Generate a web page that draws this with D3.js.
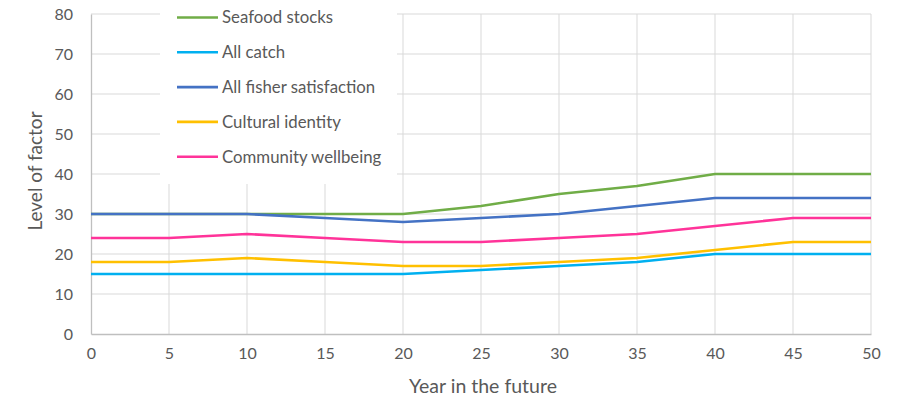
<!DOCTYPE html>
<html>
<head>
<meta charset="utf-8">
<script src="https://cdn.jsdelivr.net/npm/d3@7"></script>
<style>
  html, body { margin: 0; padding: 0; background: #fff; }
  svg { display: block; font-family: Lato, "Open Sans", sans-serif; }
</style>
</head>
<body>
<svg id="chart" width="919" height="405"></svg>
<script>
// Years on the horizontal axis
const years = [0, 5, 10, 15, 20, 25, 30, 35, 40, 45, 50];

// Level of each factor per year
const seafoodStocks         = [30, 30, 30, 30, 30, 32, 35, 37, 40, 40, 40];
const allCatch              = [15, 15, 15, 15, 15, 16, 17, 18, 20, 20, 20];
const allFisherSatisfaction = [30, 30, 30, 29, 28, 29, 30, 32, 34, 34, 34];
const culturalIdentity      = [18, 18, 19, 18, 17, 17, 18, 19, 21, 23, 23];
const communityWellbeing    = [24, 24, 25, 24, 23, 23, 24, 25, 27, 29, 29];

const seriesNames = ["Seafood stocks", "All catch", "All fisher satisfaction", "Cultural identity", "Community wellbeing"];
const seriesColors = ["#70ad47", "#00b0f0", "#4472c4", "#ffc000", "#ff3399"];

const yTicks = [0, 10, 20, 30, 40, 50, 60, 70, 80];

const series = [seafoodStocks, allCatch, allFisherSatisfaction, culturalIdentity, communityWellbeing]
  .map((vals, i) => ({ name: seriesNames[i], color: seriesColors[i], values: vals }));

const svg = d3.select("#chart");
const margin = { left: 91, right: 48, top: 14, bottom: 71 };
const W = 919, H = 405;

const x = d3.scaleLinear().domain([0, 50]).range([margin.left, W - margin.right]);
const y = d3.scaleLinear().domain([0, 80]).range([H - margin.bottom, margin.top]);

const textColor = "#595959";
const gridColor = "#d9d9d9";

// Gridlines
const grid = svg.append("g");
grid.selectAll("line.h").data(yTicks.filter(d => d > 0)).join("line")
  .attr("x1", x(0)).attr("x2", x(50))
  .attr("y1", d => y(d)).attr("y2", d => y(d))
  .attr("stroke", gridColor).attr("stroke-width", 1);
grid.selectAll("line.v").data(years.filter(d => d > 0)).join("line")
  .attr("x1", d => x(d)).attr("x2", d => x(d))
  .attr("y1", y(0)).attr("y2", y(80))
  .attr("stroke", gridColor).attr("stroke-width", 1);

// Axes
const xAxis = svg.append("g")
  .attr("transform", `translate(0,${y(0)})`)
  .call(d3.axisBottom(x).tickValues(years).tickSize(0).tickPadding(14));
const yAxis = svg.append("g")
  .attr("transform", `translate(${x(0)},0)`)
  .call(d3.axisLeft(y).tickValues(yTicks).tickSize(0).tickPadding(18));
[xAxis, yAxis].forEach(a => {
  a.select(".domain").attr("stroke", "#bfbfbf").attr("stroke-width", 1.3);
  a.selectAll("text").attr("fill", textColor).attr("font-size", 16)
    .attr("font-family", "Lato, 'Open Sans', sans-serif");
});

// Axis titles
svg.append("text")
  .attr("x", (x(0) + x(50)) / 2 + 2).attr("y", 393)
  .attr("text-anchor", "middle").attr("fill", textColor).attr("font-size", 19.5)
  .text("Year in the future");
svg.append("text")
  .attr("transform", `translate(42,${y(40) - 3}) rotate(-90)`)
  .attr("text-anchor", "middle").attr("fill", textColor).attr("font-size", 19)
  .text("Level of factor");

// Legend background sits over the gridlines
const legend = svg.append("g");
legend.append("rect")
  .attr("x", 160).attr("y", 0).attr("width", 237).attr("height", 184)
  .attr("fill", "#fff");

// Series lines
const line = d3.line().x((d, i) => x(years[i])).y(d => y(d));
svg.append("g").selectAll("path").data(series).join("path")
  .attr("d", d => line(d.values))
  .attr("fill", "none")
  .attr("stroke", d => d.color)
  .attr("stroke-width", 2.6)
  .attr("stroke-linejoin", "round");

// Legend entries
const items = legend.selectAll("g.item").data(series).join("g")
  .attr("class", "item")
  .attr("transform", (d, i) => `translate(0,${17.5 + i * 34.8})`);
items.append("line")
  .attr("x1", 177).attr("x2", 218)
  .attr("stroke", d => d.color).attr("stroke-width", 2.6);
items.append("text")
  .attr("x", 222).attr("y", 0).attr("dy", "0.35em")
  .attr("fill", textColor).attr("font-size", 16.8)
  .text(d => d.name);
</script>
</body>
</html>
